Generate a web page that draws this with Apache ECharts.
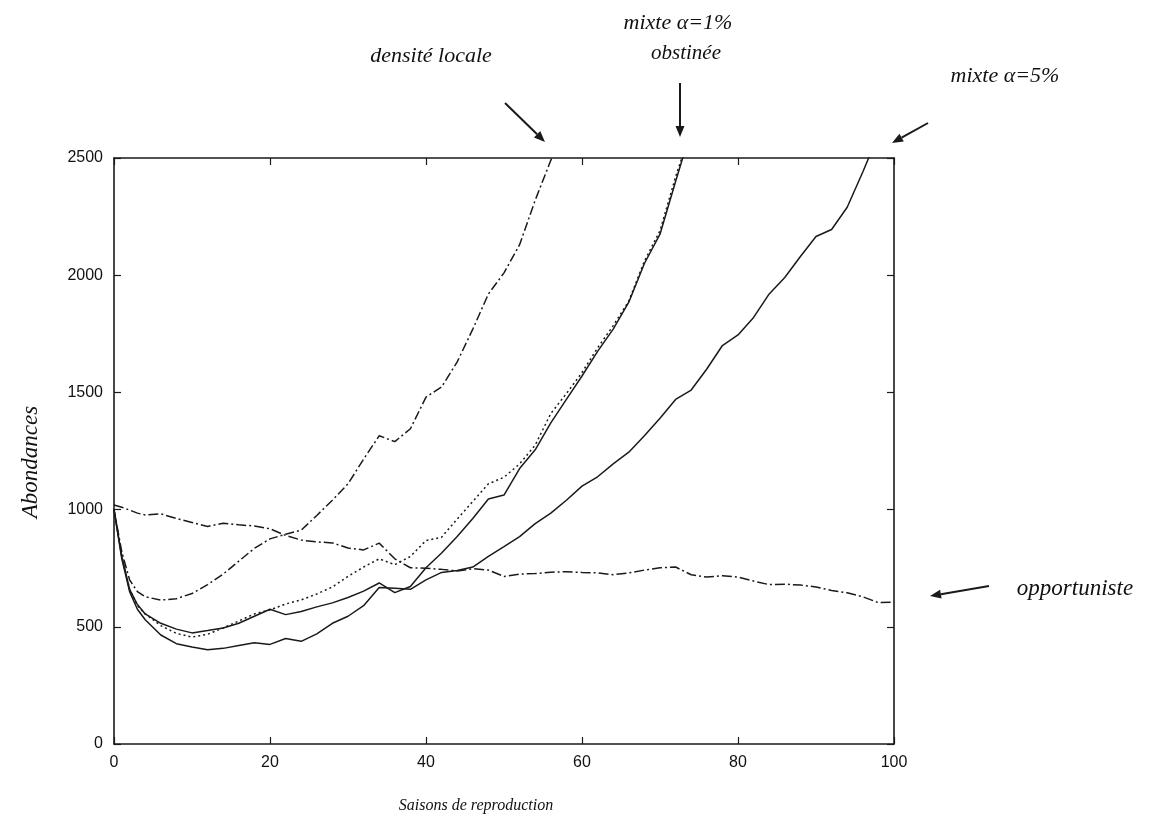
<!DOCTYPE html>
<html>
<head>
<meta charset="utf-8">
<script src="https://cdn.jsdelivr.net/npm/echarts@6/dist/echarts.min.js"></script>
<style>
	html,body{margin:0;padding:0;background:#fff;}
	#chart{width:1151px;height:827px;}
</style>
</head>
<body>
<div id="chart"></div>
<script>
	// saisons de reproduction (abscisses communes)
	var saisons = [0,1,2,3,4,6,8,10,12,14,16,18,20,22,24,26,28,30,32,34,36,38,40,42,44,46,48,50,
		52,54,56,58,60,62,64,66,68,70,72,74,76,78,80,82,84,86,88,90,92,94,96,98,100];
	// abondances
	var opportuniste = [1020,1010,998,985,977,982,962,945,928,942,935,930,918,890,870,862,858,836,828,857,
		790,752,750,745,738,748,742,715,725,727,733,735,732,730,722,730,742,752,755,722,712,718,712,695,
		680,682,678,670,655,645,628,603,605];
	var densiteLocale = [1000,820,700,650,628,614,620,642,680,725,780,835,875,895,912,975,1040,1110,1215,1315,
		1290,1345,1480,1523,1630,1770,1920,2010,2130,2320,2490,2650];
	var mixte1 = [1000,800,660,590,555,505,472,456,468,495,525,555,572,597,615,640,670,715,755,790,
		765,800,868,882,960,1035,1110,1138,1195,1275,1410,1495,1585,1690,1785,1890,2060,2190,2420,2620];
	var obstinee = [1000,800,660,595,555,515,490,474,484,495,515,545,575,552,565,585,602,625,652,687,
		646,672,752,815,885,962,1045,1062,1175,1255,1370,1470,1570,1675,1770,1885,2050,2175,2400,2620];
	var mixte5 = [1000,790,650,575,530,465,428,414,402,408,420,432,425,450,438,470,515,545,590,668,
		664,660,700,732,740,755,800,842,885,940,985,1040,1100,1140,1195,1245,1315,1390,1470,1510,1600,
		1700,1745,1820,1920,1990,2080,2165,2195,2290,2440,2600];
	var xTicks = [0,20,40,60,80,100];
	var yTicks = [0,500,1000,1500,2000,2500];

	function pts(vals){
		return vals.map(function(v,i){ return [saisons[i], v]; });
	}

	var ink = '#1a1a1a';
	var serif = '"Liberation Serif", "DejaVu Serif", serif';
	var sans = '"Liberation Sans", Arial, sans-serif';

	function mkSerie(nom, vals, type){
		return {
			name: nom,
			type: 'line',
			data: pts(vals),
			symbol: 'none',
			clip: true,
			lineStyle: { color: ink, width: 1.5, type: type },
			z: 3
		};
	}

	function axe(pos, labels, ticks){
		return {
			type: 'value', position: pos,
			min: ticks[0], max: ticks[ticks.length-1], interval: ticks[1] - ticks[0],
			axisLine: { show: true, onZero: false, lineStyle: { color: ink, width: 1.6 } },
			axisTick: { show: true, inside: true, length: 7, lineStyle: { color: ink, width: 1.2 } },
			axisLabel: { show: labels, margin: 11, color: '#111', fontSize: 16, fontFamily: sans,
				formatter: function(v){ return String(v); } },
			splitLine: { show: false }
		};
	}

	// fleche : trait + pointe pleine
	function fleche(x1, y1, x2, y2){
		var a = Math.atan2(y2 - y1, x2 - x1), L = 11, W = 4.5;
		var bx = x2 - L*Math.cos(a), by = y2 - L*Math.sin(a);
		return [
			{ type: 'line', shape: { x1: x1, y1: y1, x2: bx, y2: by }, style: { stroke: ink, lineWidth: 2 } },
			{ type: 'polygon', shape: { points: [[x2,y2],[bx - W*Math.sin(a), by + W*Math.cos(a)],[bx + W*Math.sin(a), by - W*Math.cos(a)]] }, style: { fill: ink } }
		];
	}
	function texte(x, y, t, size, rot){
		return {
			type: 'text', x: x, y: y, rotation: rot || 0,
			style: { text: t, fill: '#111', font: 'italic ' + size + 'px ' + serif, align: 'center', verticalAlign: 'middle' }
		};
	}

	var annotations = [
		texte(431, 56, 'densité locale', 22),
		texte(678, 23, 'mixte α=1%', 22),
		texte(686, 53, 'obstinée', 21),
		texte(1005, 76, 'mixte α=5%', 22),
		texte(1075, 589, 'opportuniste', 23),
		texte(476, 806, 'Saisons de reproduction', 16),
		texte(31, 462, 'Abondances', 23, Math.PI/2)
	].concat(fleche(505,103,545,142), fleche(680,83,680,137), fleche(928,123,892,143), fleche(989,586,930,596));

	var myChart = echarts.init(document.getElementById('chart'));
	myChart.setOption({
		animation: false,
		backgroundColor: '#fff',
		grid: { left: 114, right: 257, top: 158, bottom: 83, containLabel: false },
		xAxis: [axe('bottom', true, xTicks), axe('top', false, xTicks)],
		yAxis: [axe('left', true, yTicks), axe('right', false, yTicks)],
		series: [
			mkSerie('opportuniste', opportuniste, [10,3,2,3]),
			mkSerie('densité locale', densiteLocale, [9,3,2,3]),
			mkSerie('mixte α=1%', mixte1, [2,3]),
			mkSerie('obstinée', obstinee, 'solid'),
			mkSerie('mixte α=5%', mixte5, 'solid')
		],
		graphic: annotations
	});
</script>
</body>
</html>
